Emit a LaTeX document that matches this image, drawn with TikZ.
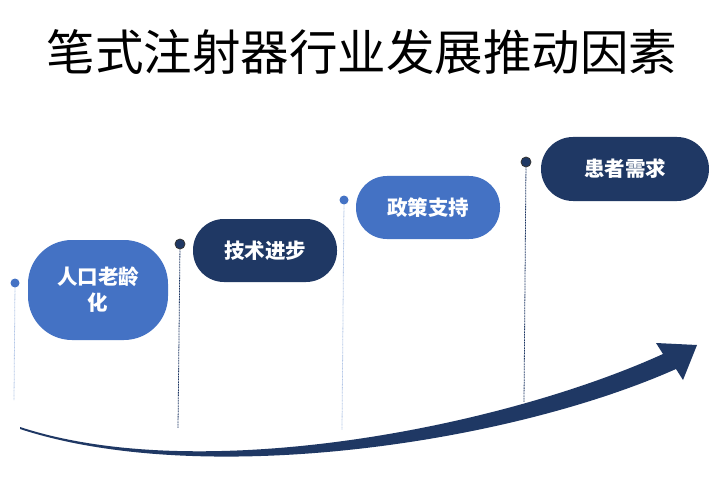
\documentclass[tikz,border=0pt]{standalone}
\usepackage{fontspec}
\setmainfont{Liberation Serif}
\newfontfamily\cjk{Noto Sans CJK SC}
\definecolor{mblue}{HTML}{4472C4}
\definecolor{navy}{HTML}{1F3864}
\definecolor{lblue}{HTML}{B4C7E7}
\begin{document}
\begin{tikzpicture}[x=1pt,y=-1pt,
  pill/.style={rounded corners=31pt, minimum width=144pt, minimum height=63pt, inner sep=0pt,
    text=white, font=\cjk\bfseries\fontsize{20.5}{26}\selectfont, align=center},
  bluedot/.style={circle, fill=mblue, minimum size=9pt, inner sep=0pt},
  navydot/.style={circle, fill=navy, draw=black!80, line width=0.8pt, minimum size=10pt, inner sep=0pt},
  lightline/.style={lblue, line width=0.8pt, dash pattern=on 1pt off 0.6pt},
  darkline/.style={navy, line width=0.8pt, dash pattern=on 1pt off 0.6pt}]
\useasboundingbox (0,0) rectangle (723,492);
\fill[white] (0,0) rectangle (723,492);

\node (title) at (362,52) {\cjk\fontsize{48.5}{52}\selectfont 笔式注射器行业发展推动因素};

% nodes
\node[pill, fill=mblue, rounded corners=44pt, minimum width=140pt, minimum height=100pt] (n1) at (98,290) {人口老龄\\化};
\node[pill, fill=navy] (n2) at (265,250.5) {技术进步};
\node[pill, fill=mblue] (n3) at (428,207.5) {政策支持};
\node[pill, fill=navy, minimum width=168pt, minimum height=64pt, rounded corners=32pt] (n4) at (625,169) {患者需求};

% dots and dotted lines
\node[bluedot] (d1) at (15,283) {};
\coordinate (e1) at (14,400);
\draw[lightline] (d1) -- (e1);
\node[navydot] (d2) at (180,244) {};
\coordinate (e2) at (178,428);
\draw[darkline] (d2) -- (e2);
\node[bluedot] (d3) at (344,200) {};
\coordinate (e3) at (342,430);
\draw[lightline] (d3) -- (e3);
\node[navydot] (d4) at (526,162) {};
\coordinate (e4) at (524,402);
\draw[darkline] (d4) -- (e4);

% curved arrow
\fill[navy] (20,427) .. controls (200,486) and (500,428) .. (663,354)
  -- (656,343) -- (697,345) -- (683,380) -- (676,369)
  .. controls (505,445) and (200,488) .. (20,429) -- cycle;
\end{tikzpicture}
\end{document}
